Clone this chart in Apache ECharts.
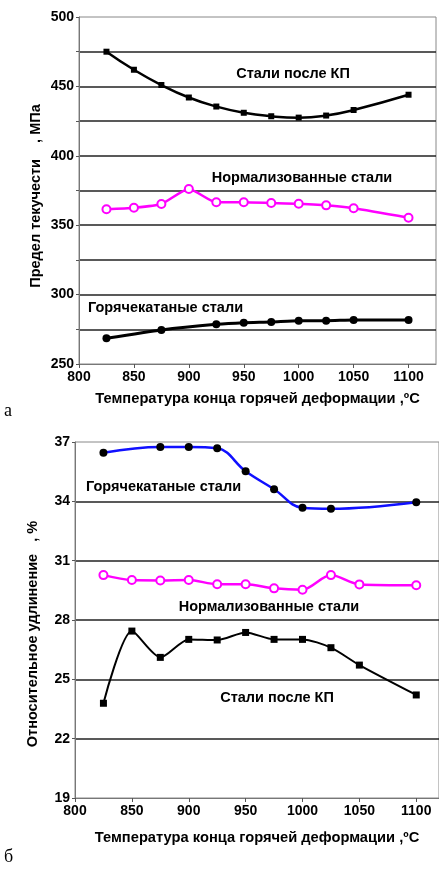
<!DOCTYPE html>
<html><head><meta charset="utf-8">
<script src="https://cdn.jsdelivr.net/npm/echarts@6/dist/echarts.min.js"></script>
<style>html,body{margin:0;padding:0;background:#fff;}#c{width:439px;height:869px;}</style>
</head><body><div id="c"></div>
<script>
// ---- Chart а: yield strength ----
const topKpX = [825,850,875,900,925,950,975,1000,1025,1050,1100];
const topKpY = [475,462,451,442,435.5,431,428.5,427.5,429,433,444];
const topNormX = [825,850,875,900,925,950,975,1000,1025,1050,1100];
const topNormY = [361.5,362.6,365.3,376.1,366.5,366.5,366,365.5,364.3,362.2,355.4];
const topHotX = [825,875,925,950,975,1000,1025,1050,1100];
const topHotY = [268.5,274.5,278.6,279.8,280.3,281.2,281.2,281.7,281.7];
// ---- Chart б: elongation ----
const botHotX = [825,875,900,925,950,975,1000,1025,1100];
const botHotY = [36.46,36.75,36.75,36.68,35.52,34.61,33.67,33.62,33.95];
const botNormX = [825,850,875,900,925,950,975,1000,1025,1050,1100];
const botNormY = [30.27,30.02,30.0,30.02,29.81,29.81,29.6,29.53,30.27,29.8,29.76];
const botKpX = [825,850,875,900,925,950,975,1000,1025,1050,1100];
const botKpY = [23.79,27.44,26.11,27.02,26.99,27.37,27.02,27.02,26.6,25.72,24.21];
// ticks
const xTickLabels = [800,850,900,950,1000,1050,1100];
const topYLabels = [250,300,350,400,450,500];
const botYLabels = [19,22,25,28,31,34,37];

const zip = (xs, ys) => xs.map((x, i) => [x, ys[i]]);
const F = '"Liberation Sans", Arial, sans-serif';
const lblStyle = {color:'#000', fontFamily:F, fontWeight:'bold', fontSize:14};

function xAx(gi, max, gap){
  return {gridIndex:gi, type:'value', min:800, max:max, interval:50,
    axisLine:{lineStyle:{color:'#777', width:1}},
    axisTick:{show:true, length:4, lineStyle:{color:'#555'}},
    axisLabel:Object.assign({margin:6, showMaxLabel:false,
      formatter:v => xTickLabels.indexOf(v) >= 0 ? String(v) : ''}, lblStyle),
    splitLine:{show:false},
    name:'Температура конца горячей деформации ,ºС', nameLocation:'middle', nameGap:gap,
    nameTextStyle:{color:'#000', fontFamily:F, fontWeight:'bold', fontSize:14.7}};
}
function yAx(gi, min, max, interval, labels){
  return {gridIndex:gi, type:'value', min:min, max:max, interval:interval,
    axisLine:{show:true, lineStyle:{color:'#777', width:1}},
    axisTick:{show:true, length:3, lineStyle:{color:'#555'}},
    axisLabel:Object.assign({margin:5, formatter:v => labels.indexOf(v) >= 0 ? String(v) : ''}, lblStyle),
    splitLine:{show:true, showMinLine:false, showMaxLine:false, lineStyle:{color:'#222', width:1.5}}};
}

const chart = echarts.init(document.getElementById('c'), null, {renderer:'canvas'});
const txt = (x, y, s, extra) => Object.assign({type:'text', x:x, y:y, style:Object.assign({text:s, fill:'#000',
  font:'bold 14.5px ' + F, align:'center', verticalAlign:'middle'}, extra||{})});

chart.setOption({
  animation:false,
  grid:[
    {left:79, top:17, right:3, height:347, show:true, borderColor:'#888', borderWidth:1},
    {left:75, top:442, right:0, height:356, show:true, borderColor:'#888', borderWidth:1}
  ],
  xAxis:[xAx(0, 1125, 27), xAx(1, 1120, 32)],
  yAxis:[yAx(0, 250, 500, 25, topYLabels), yAx(1, 19, 37, 3, botYLabels)],
  series:[
    {type:'line', xAxisIndex:0, yAxisIndex:0, data:zip(topKpX, topKpY), smooth:0.5,
      symbol:'rect', symbolSize:6, itemStyle:{color:'#000'}, lineStyle:{color:'#000', width:2.5}},
    {type:'line', xAxisIndex:0, yAxisIndex:0, data:zip(topNormX, topNormY), smooth:0.2,
      symbol:'circle', symbolSize:8, itemStyle:{color:'#fff', borderColor:'#ff00ff', borderWidth:2},
      lineStyle:{color:'#ff00ff', width:2.5}},
    {type:'line', xAxisIndex:0, yAxisIndex:0, data:zip(topHotX, topHotY), smooth:0.2,
      symbol:'circle', symbolSize:8, itemStyle:{color:'#000'}, lineStyle:{color:'#000', width:3}},
    {type:'line', xAxisIndex:1, yAxisIndex:1, data:zip(botHotX, botHotY), smooth:0.4,
      symbol:'circle', symbolSize:8, itemStyle:{color:'#000'}, lineStyle:{color:'#1010ff', width:2.5}},
    {type:'line', xAxisIndex:1, yAxisIndex:1, data:zip(botNormX, botNormY), smooth:0.3,
      symbol:'circle', symbolSize:8, itemStyle:{color:'#fff', borderColor:'#ff00ff', borderWidth:2},
      lineStyle:{color:'#ff00ff', width:2.5}},
    {type:'line', xAxisIndex:1, yAxisIndex:1, data:zip(botKpX, botKpY), smooth:0.25,
      symbol:'rect', symbolSize:7, itemStyle:{color:'#000'}, lineStyle:{color:'#000', width:2}}
  ],
  graphic:[
    txt(293, 74, 'Стали после КП'),
    txt(302, 178, 'Нормализованные стали'),
    txt(88, 308, 'Горячекатаные стали', {align:'left'}),
    txt(86, 487, 'Горячекатаные стали', {align:'left'}),
    txt(269, 607, 'Нормализованные стали'),
    txt(277, 698, 'Стали после КП'),
    {type:'text', x:36, y:196, rotation:Math.PI/2, style:{text:'Предел текучести    , МПа', fill:'#000',
      font:'bold 14.5px ' + F, align:'center', verticalAlign:'middle'}},
    {type:'text', x:33, y:634, rotation:Math.PI/2, style:{text:'Относительное удлинение   , %', fill:'#000',
      font:'bold 14.5px ' + F, align:'center', verticalAlign:'middle'}},
    {type:'text', x:4, y:411, style:{text:'а', fill:'#000', font:'18px "Liberation Serif", serif', verticalAlign:'middle'}},
    {type:'text', x:4, y:857, style:{text:'б', fill:'#000', font:'18px "Liberation Serif", serif', verticalAlign:'middle'}}
  ]
});
</script></body></html>
